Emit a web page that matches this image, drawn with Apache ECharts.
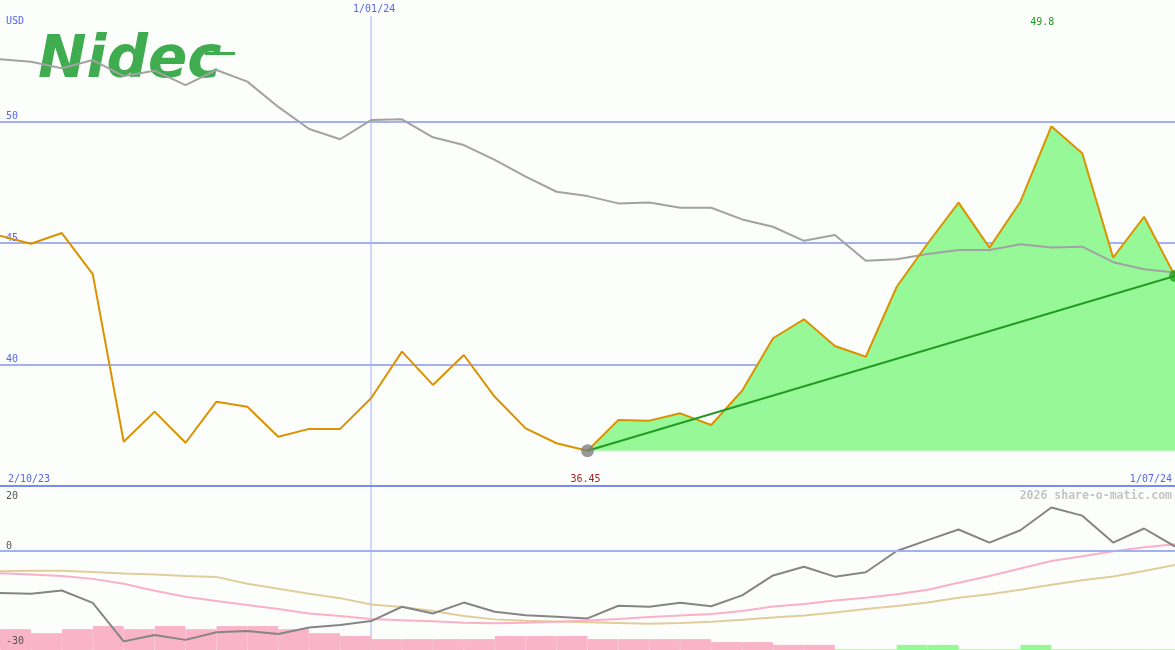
<!DOCTYPE html>
<html><head><meta charset="utf-8">
<script src="https://cdn.jsdelivr.net/npm/echarts@6/dist/echarts.min.js"></script>
<style>html,body{margin:0;padding:0;background:#fcfefc}#c{width:1175px;height:650px}</style>
</head><body><div id="c"></div>
<script>
// weekly categories
const categories = ['2/10/23','9/10/23','16/10/23','23/10/23','30/10/23','6/11/23','13/11/23','20/11/23','27/11/23','4/12/23','11/12/23','18/12/23','25/12/23','1/01/24','8/01/24','15/01/24','22/01/24','29/01/24','5/02/24','12/02/24','19/02/24','26/02/24','4/03/24','11/03/24','18/03/24','25/03/24','1/04/24','8/04/24','15/04/24','22/04/24','29/04/24','6/05/24','13/05/24','20/05/24','27/05/24','3/06/24','10/06/24','17/06/24','24/06/24'];
// share price (USD)
const price = [45.30,44.97,45.41,43.72,36.82,38.06,36.78,38.47,38.26,37.03,37.35,37.35,38.61,40.53,39.16,40.39,38.67,37.37,36.76,36.45,37.72,37.69,37.99,37.51,38.92,41.08,41.86,40.76,40.32,43.20,44.98,46.66,44.81,46.70,49.80,48.69,44.40,46.08,43.64];
// comparison line (grey, top panel)
const compare = [52.56,52.46,52.19,52.53,51.87,52.09,51.50,52.12,51.64,50.60,49.69,49.27,50.06,50.09,49.35,49.03,48.42,47.73,47.11,46.93,46.63,46.67,46.45,46.45,45.97,45.67,45.09,45.33,44.27,44.33,44.55,44.71,44.71,44.95,44.81,44.85,44.21,43.92,43.79];
// lower panel indicators
const momentum = [-16.9,-17.2,-15.9,-20.9,-36.5,-33.9,-35.9,-32.8,-32.3,-33.5,-30.9,-29.9,-28.3,-22.5,-25.2,-20.8,-24.5,-25.9,-26.5,-27.2,-22.1,-22.5,-20.9,-22.3,-17.9,-9.8,-6.3,-10.3,-8.5,0.1,4.5,8.8,3.5,8.5,17.7,14.4,3.5,9.2,1.9];
const avgFast = [-8.9,-9.4,-10.0,-11.2,-13.2,-16.0,-18.4,-20.2,-21.8,-23.4,-25.2,-26.2,-27.4,-28.0,-28.4,-29.0,-29.2,-29.0,-28.6,-28.1,-27.4,-26.6,-26.0,-25.4,-24.2,-22.4,-21.4,-20.0,-18.8,-17.4,-15.6,-12.8,-10.0,-7.0,-4.0,-2.0,0.0,1.6,2.8];
const avgSlow = [-8.1,-7.9,-7.9,-8.4,-9.0,-9.4,-10.0,-10.4,-13.2,-15.2,-17.2,-19.0,-21.6,-22.6,-24.2,-26.2,-27.6,-28.2,-28.5,-28.8,-29.1,-29.4,-29.1,-28.6,-27.8,-26.8,-26.0,-24.8,-23.4,-22.2,-20.8,-18.8,-17.4,-15.6,-13.6,-11.8,-10.2,-8.0,-5.6];
// histogram between weeks (negative pink, positive green)
const hist = [-8.4,-6.8,-8.4,-9.7,-8.4,-9.7,-8.4,-9.7,-9.7,-8.4,-6.8,-5.7,-4.4,-4.4,-4.4,-4.4,-5.7,-5.7,-5.7,-4.4,-4.4,-4.4,-4.4,-3.2,-3.2,-2.1,-2.1,0,0,2.1,2.1,0,0,2.1,0,0,0,0];
const topTicks = [40,45,50];
const bottomTicks = [20,0];
const bottomLowLabel = '-30';
const dateLabels = [{i:0,t:'2/10/23'},{i:12,t:'1/01/24'},{i:38,t:'1/07/24'}];

const lowIdx = price.indexOf(Math.min(...price));
const highIdx = price.indexOf(Math.max(...price));
const lastIdx = price.length - 1;
const lowVal = price[lowIdx], highVal = price[highIdx];
const areaData = price.map((v,i)=> i>=lowIdx ? v : null);
const histCats = hist.map((_,i)=>'w'+i);

const MONO = '"DejaVu Sans Mono", monospace';
const BLUE_TXT = '#5566ee';
const GRID_BLUE = '#a3b1f2';

const chart = echarts.init(document.getElementById('c'));
chart.setOption({
  backgroundColor: '#fcfefc',
  animation: false,
  grid: [
    {left:0, right:0, top:0, height:486},
    {left:0, right:0, top:487, height:165}
  ],
  xAxis: [
    {type:'category', gridIndex:0, data:categories, boundaryGap:false,
     axisLine:{show:true, lineStyle:{color:'#7b8bef', width:2}}, axisTick:{show:false}, axisLabel:{show:false}, splitLine:{show:false}},
    {type:'category', gridIndex:1, data:categories, boundaryGap:false, show:false},
    {type:'category', gridIndex:1, data:histCats, boundaryGap:true, show:false}
  ],
  yAxis: [
    {type:'value', gridIndex:0, min:35, max:55, interval:5,
     axisLine:{show:false}, axisTick:{show:false},
     splitLine:{show:true, showMinLine:false, showMaxLine:false, lineStyle:{color:GRID_BLUE, width:2}},
     axisLabel:{inside:true, margin:6, verticalAlign:'bottom', color:BLUE_TXT, fontFamily:MONO, fontSize:10,
       showMinLabel:false, showMaxLabel:false,
       formatter: v => topTicks.includes(v) ? String(v) : ''}},
    {type:'value', gridIndex:1, min:-40, max:26, interval:10,
     axisLine:{show:false}, axisTick:{show:false}, splitLine:{show:false},
     axisLabel:{inside:true, margin:6, verticalAlign:'bottom', color:'#555555', fontFamily:MONO, fontSize:10,
       showMinLabel:false, showMaxLabel:false,
       formatter: v => bottomTicks.includes(v) ? String(v) : ''}},
    {type:'value', gridIndex:1, min:0, max:66, show:false}
  ],
  series: [
    {type:'line', xAxisIndex:0, yAxisIndex:0, data:areaData, symbol:'none', silent:true,
     lineStyle:{width:0, opacity:0}, areaStyle:{color:'#96f896', opacity:1, origin:lowVal}, z:1},
    {type:'line', xAxisIndex:0, yAxisIndex:0, data:compare, symbol:'none', silent:true,
     lineStyle:{color:'#a2a2a2', width:2}, z:2},
    {type:'line', xAxisIndex:0, yAxisIndex:0, data:price, symbol:'none', silent:true,
     lineStyle:{color:'#dc9200', width:2}, z:3},
    {type:'line', xAxisIndex:0, yAxisIndex:0, data:[[lowIdx, lowVal],[lastIdx, price[lastIdx]]], symbol:'none', silent:true,
     lineStyle:{color:'#239b23', width:2}, z:4},
    {type:'scatter', xAxisIndex:0, yAxisIndex:0, data:[[lowIdx, lowVal]], symbolSize:13, silent:true,
     itemStyle:{color:'#808080'}, z:5},
    {type:'scatter', xAxisIndex:0, yAxisIndex:0, data:[[lastIdx, price[lastIdx]]], symbolSize:12, silent:true,
     itemStyle:{color:'#22a022'}, z:5},
    {type:'bar', xAxisIndex:2, yAxisIndex:2, barWidth:'100%', barCategoryGap:'0%', silent:true, z:1,
     data: hist.map(v => {const c = v < 0 ? '#f9b4c8' : '#98f898'; return {value:Math.abs(v), itemStyle:{color:c, borderColor:c, borderWidth:1}};})},
    {type:'line', xAxisIndex:1, yAxisIndex:1, data:avgSlow, symbol:'none', silent:true,
     lineStyle:{color:'#e3cc9c', width:2}, z:2,
     markLine:{silent:true, symbol:'none', label:{show:false}, lineStyle:{color:GRID_BLUE, width:2, type:'solid'}, data:[{yAxis:0}]}},
    {type:'line', xAxisIndex:1, yAxisIndex:1, data:avgFast, symbol:'none', silent:true,
     lineStyle:{color:'#fcb0c6', width:2}, z:3},
    {type:'line', xAxisIndex:1, yAxisIndex:1, data:momentum, symbol:'none', silent:true,
     lineStyle:{color:'#858585', width:2}, z:4}
  ]
});

const xOf = i => chart.convertToPixel({xAxisIndex:0}, i);
const txt = (x, y, t, fill, align, size, weight) => ({
  type:'text', x:x, y:y, z:50,
  style:{text:t, fill:fill, font:(weight||'normal')+' '+(size||10)+'px '+MONO,
         align:align||'left', verticalAlign:'middle', textAlign:align||'left', textVerticalAlign:'middle'}
});
const vx = xOf(dateLabels[1].i);
chart.setOption({
  graphic: [
    {type:'line', z:0, shape:{x1:vx, y1:16, x2:vx, y2:650}, style:{stroke:GRID_BLUE, lineWidth:1}},
    txt(6, 21, 'USD', BLUE_TXT),
    txt(vx - 18, 9, dateLabels[1].t, BLUE_TXT),
    txt(8, 479, dateLabels[0].t, BLUE_TXT),
    txt(1172, 479, dateLabels[2].t, BLUE_TXT, 'right'),
    txt(xOf(highIdx) - 9, 22, highVal.toFixed(1), '#229922', 'center'),
    txt(xOf(lowIdx) - 2, 479, lowVal.toFixed(2), '#aa2222', 'center'),
    txt(6, 641, bottomLowLabel, '#555555'),
    txt(1172, 496, '2026 share-o-matic.com', '#c4c4c4', 'right', 11.5, 'bold'),
    {type:'text', x:38, y:62, z:0, style:{text:'Nidec', fill:'#3fad4f', font:'italic bold 58px "DejaVu Sans"',
      align:'left', verticalAlign:'middle', textAlign:'left', textVerticalAlign:'middle'}},
    {type:'rect', z:0, shape:{x:205, y:52, width:30, height:3}, style:{fill:'#3fad4f'}}
  ]
});
</script></body></html>
